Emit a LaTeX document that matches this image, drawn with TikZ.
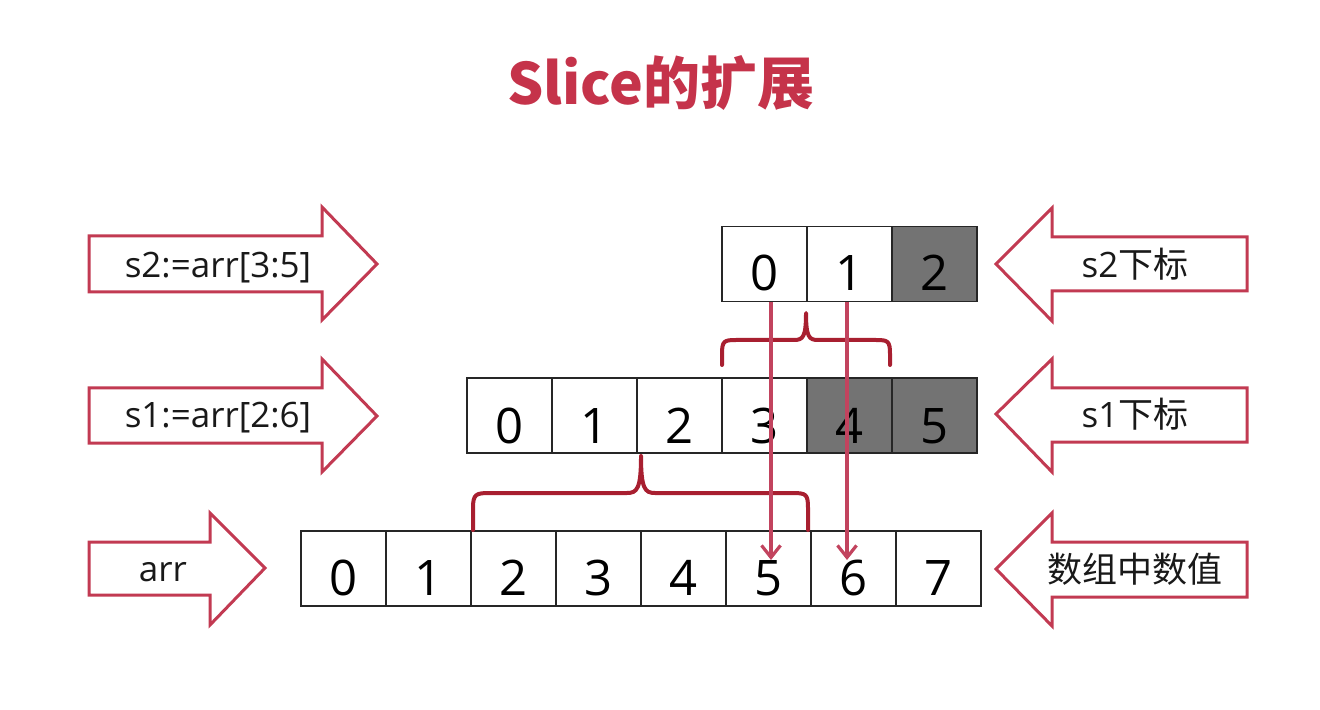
\documentclass[tikz,border=0pt]{standalone}
\usepackage{fontspec}
\setmainfont{Open Sans}
\newfontfamily\cjk{Noto Sans CJK SC}
\usetikzlibrary{arrows.meta}
\definecolor{outlinered}{HTML}{C23A52}
\definecolor{titlered}{HTML}{C5334A}
\definecolor{bracered}{HTML}{A81F30}
\definecolor{linkred}{HTML}{C2435E}
\definecolor{cellgray}{HTML}{737373}
\begin{document}
\begin{tikzpicture}[x=0.5pt,y=-0.5pt,
  blockarrow/.style={draw=outlinered,line width=1.5pt,fill=white,line join=miter},
  lbl/.style={inner sep=0pt,anchor=base,font=\fontsize{17.5pt}{20pt}\selectfont,text=black!90},
  cell/.style={draw=black!85,line width=0.75pt,fill=white,minimum width=42.5pt,minimum height=37.5pt,inner sep=0pt},
  graycell/.style={cell,fill=cellgray},
  digit/.style={inner sep=0pt,anchor=base,font=\fontsize{24.5pt}{28pt}\selectfont,text=black},
  bracepath/.style={draw=bracered,line width=2pt,line cap=round,line join=round},
  varrow/.style={draw=linkred,line width=1.6pt,-{Straight Barb[length=6pt,width=9.5pt,line width=1.6pt]}}
]
\useasboundingbox (0,0) rectangle (1320,710);

% title
\node[inner sep=0pt,text=titlered,font=\cjk\bfseries\fontsize{28.5pt}{32pt}\selectfont] (title) at (661,83) {Slice的扩展};

% left block arrows (pointing right)
\draw[blockarrow] (89,236) -- (322,236) -- (322,207) -- (377,264) -- (322,320) -- (322,292) -- (89,292) -- cycle;
\node[lbl] (l2) at (218,278) {s2:=arr[3:5]};
\draw[blockarrow] (89,388) -- (322,388) -- (322,359) -- (377,416) -- (322,472) -- (322,443) -- (89,443) -- cycle;
\node[lbl] (l1) at (218,428) {s1:=arr[2:6]};
\draw[blockarrow] (89,542) -- (210,542) -- (210,513) -- (265,568) -- (210,625) -- (210,595) -- (89,595) -- cycle;
\node[lbl] (l0) at (163,581) {arr};

% right block arrows (pointing left)
\draw[blockarrow] (1247,237) -- (1052,237) -- (1052,208) -- (996,264) -- (1052,321) -- (1052,291) -- (1247,291) -- cycle;
\node[lbl] (r2) at (1135,278) {s2{\cjk 下标}};
\draw[blockarrow] (1247,388) -- (1052,388) -- (1052,359) -- (996,414) -- (1052,472) -- (1052,442) -- (1247,442) -- cycle;
\node[lbl] (r1) at (1135,428) {s1{\cjk 下标}};
\draw[blockarrow] (1247,542) -- (1052,542) -- (1052,513) -- (996,569) -- (1052,626) -- (1052,597) -- (1247,597) -- cycle;
\node[lbl,font=\cjk\fontsize{17.5pt}{20pt}\selectfont] (r0) at (1135,582) {数组中数值};

% arr cells
\foreach \i in {0,...,7}{
  \node[cell] (a\i) at (343.5+85*\i,568.5) {};
  \node[digit] (ad\i) at ([yshift=5.5pt]a\i.south) {\i};
}
% s1 cells
\foreach \i in {0,...,5}{
  \ifnum\i>3
    \node[graycell] (b\i) at (509.5+85*\i,415.5) {};
  \else
    \node[cell] (b\i) at (509.5+85*\i,415.5) {};
  \fi
  \node[digit] (bd\i) at ([yshift=5pt]b\i.south) {\i};
}
% s2 cells
\foreach \i in {0,...,2}{
  \ifnum\i>1
    \node[graycell] (c\i) at (764.5+85*\i,264) {};
  \else
    \node[cell] (c\i) at (764.5+85*\i,264) {};
  \fi
  \node[digit] (cd\i) at ([yshift=6pt]c\i.south) {\i};
}

% braces
\draw[bracepath] (722,365) -- (722,354) .. controls (722,341) and (724,340) .. (736,340)
  -- (794,340) .. controls (803,340) and (806,337) .. (806,313)
  .. controls (806,337) and (809,340) .. (818,340) -- (876,340)
  .. controls (888,340) and (890,341) .. (890,354) -- (890,365);
\draw[bracepath] (473,530) -- (473,508) .. controls (473,494) and (476,493) .. (490,493)
  -- (627,493) .. controls (637,493) and (641,489) .. (641,456)
  .. controls (641,489) and (645,493) .. (655,493) -- (792,493)
  .. controls (806,493) and (808,494) .. (808,508) -- (808,530);

% connectors from s2 elements to arr elements
\coordinate (v1s) at (771,302);
\coordinate (v1e) at (771,560);
\coordinate (v2s) at (847,302);
\coordinate (v2e) at (847,560);
\draw[varrow] (v1s) -- (v1e);
\draw[varrow] (v2s) -- (v2e);
\end{tikzpicture}
\end{document}
